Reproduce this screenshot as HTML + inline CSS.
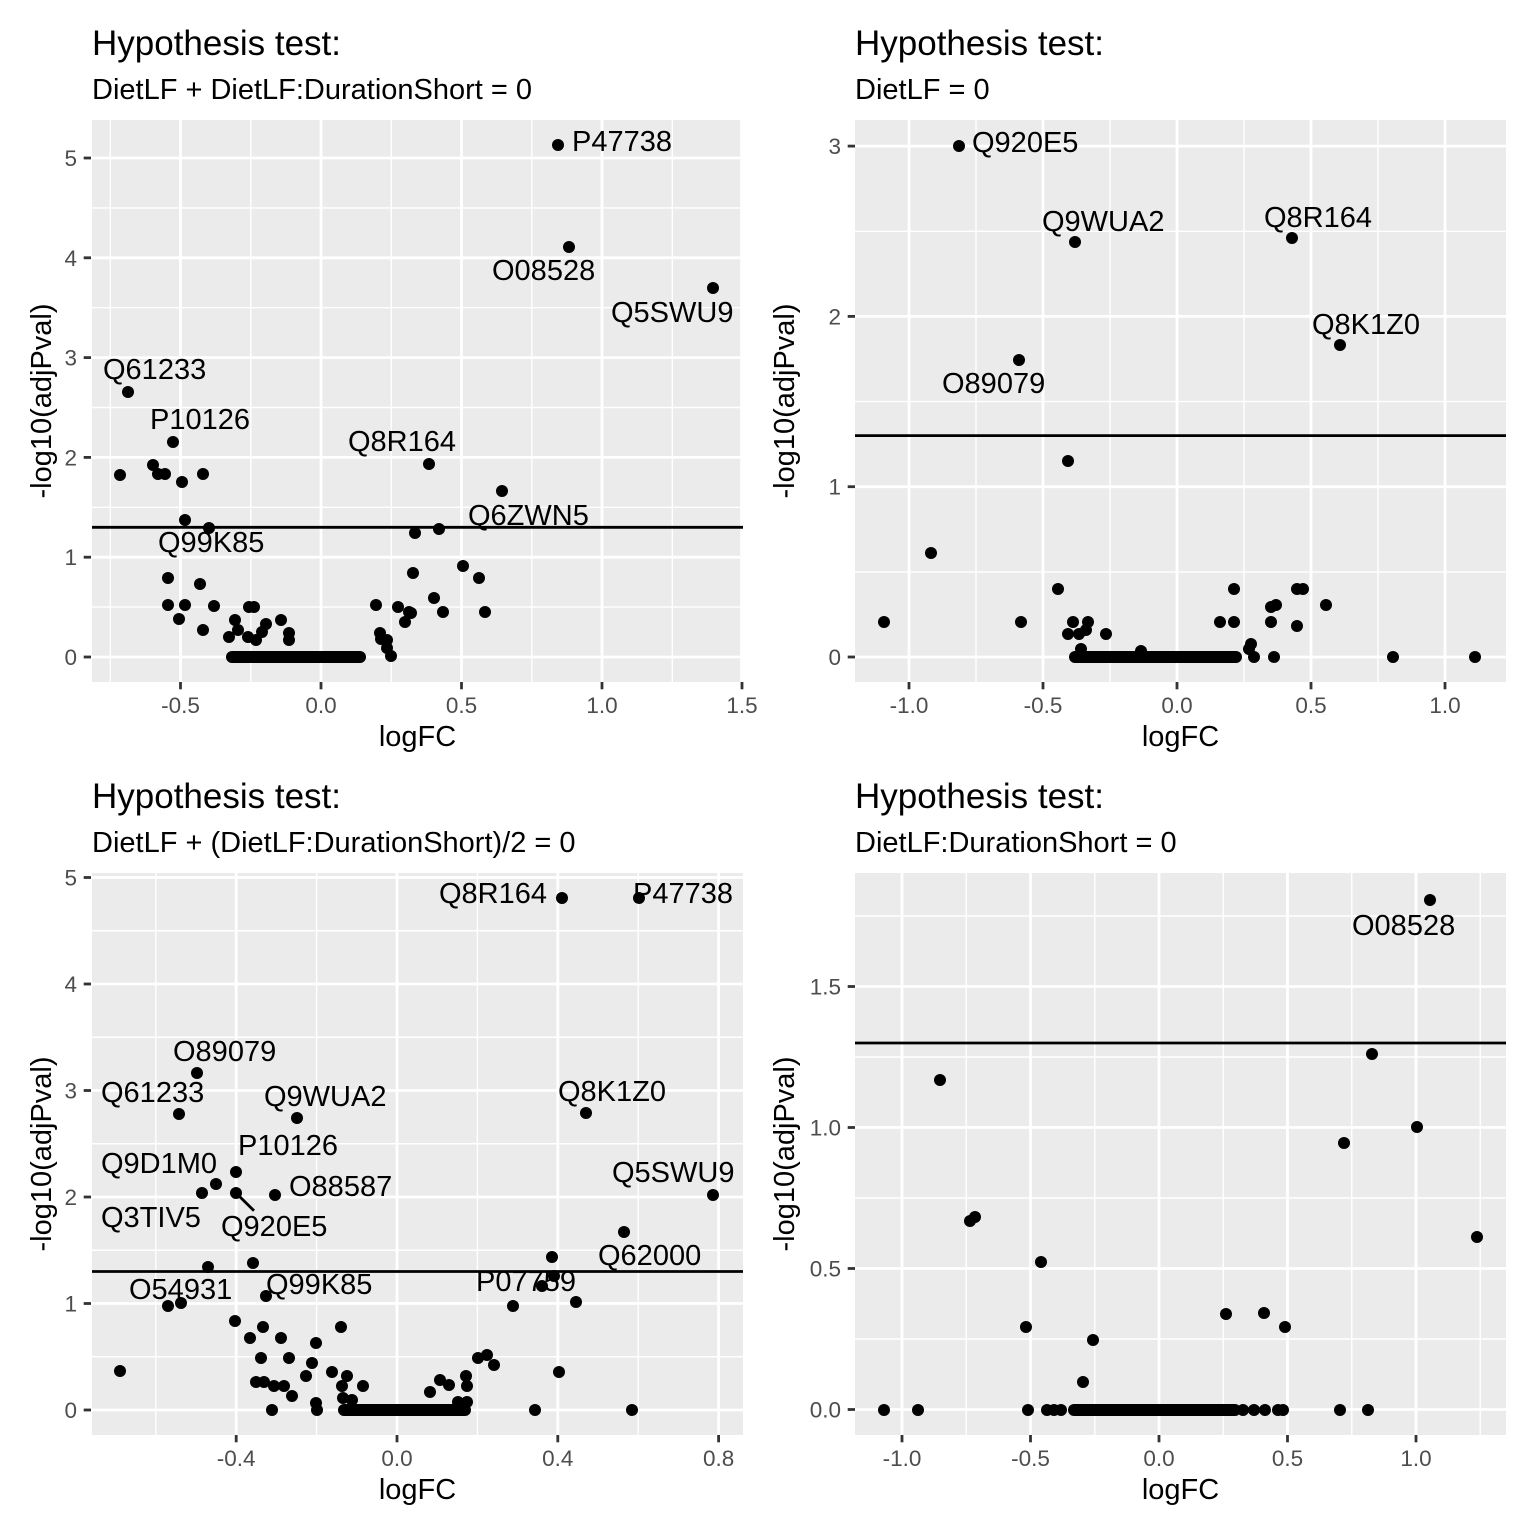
<!DOCTYPE html>
<html><head><meta charset="utf-8"><style>
html,body{margin:0;padding:0;background:#fff;}
svg{display:block;}
text{font-family:"Liberation Sans",Arial,sans-serif;}
.t{font-size:35px;fill:#000;}
.st{font-size:29px;fill:#000;}
.ax{font-size:29px;fill:#000;}
.tk{font-size:22.5px;fill:#4D4D4D;}
.lb{font-size:29px;fill:#000;}
.bg{fill:#EBEBEB;}
.gM{stroke:#fff;stroke-width:2.8;}
.gm{stroke:#fff;stroke-width:1.4;}
.tm{stroke:#333;stroke-width:2.8;}
.hl{stroke:#000;stroke-width:2.8;}
.zr{stroke:#000;stroke-width:12;stroke-linecap:round;}
</style></head><body>
<svg width="1536" height="1536" viewBox="0 0 1536 1536" xmlns="http://www.w3.org/2000/svg">
<rect width="1536" height="1536" fill="#fff"/>

<!-- ================= PANEL 1 ================= -->
<text class="t" x="92" y="55">Hypothesis test:</text>
<text class="st" x="92" y="99">DietLF + DietLF:DurationShort = 0</text>
<rect class="bg" x="92" y="120" width="651" height="562"/>
<g>
<line class="gm" x1="92" x2="743" y1="607.1" y2="607.1"/>
<line class="gm" x1="92" x2="743" y1="507.3" y2="507.3"/>
<line class="gm" x1="92" x2="743" y1="407.5" y2="407.5"/>
<line class="gm" x1="92" x2="743" y1="307.7" y2="307.7"/>
<line class="gm" x1="92" x2="743" y1="207.9" y2="207.9"/>
<line class="gm" y1="120" y2="682" x1="110.3" x2="110.3"/>
<line class="gm" y1="120" y2="682" x1="250.8" x2="250.8"/>
<line class="gm" y1="120" y2="682" x1="391.3" x2="391.3"/>
<line class="gm" y1="120" y2="682" x1="531.8" x2="531.8"/>
<line class="gm" y1="120" y2="682" x1="672.3" x2="672.3"/>
<line class="gM" x1="92" x2="743" y1="657" y2="657"/>
<line class="gM" x1="92" x2="743" y1="557.2" y2="557.2"/>
<line class="gM" x1="92" x2="743" y1="457.4" y2="457.4"/>
<line class="gM" x1="92" x2="743" y1="357.6" y2="357.6"/>
<line class="gM" x1="92" x2="743" y1="257.8" y2="257.8"/>
<line class="gM" x1="92" x2="743" y1="158" y2="158"/>
<line class="gM" y1="120" y2="682" x1="180.5" x2="180.5"/>
<line class="gM" y1="120" y2="682" x1="321" x2="321"/>
<line class="gM" y1="120" y2="682" x1="461.5" x2="461.5"/>
<line class="gM" y1="120" y2="682" x1="602" x2="602"/>
<line class="gM" y1="120" y2="682" x1="741.6" x2="741.6"/>
</g>
<line class="hl" x1="92" x2="743" y1="527.3" y2="527.3"/>
<g class="lb">
<text class="lb" x="572" y="151">P47738</text>
<text class="lb" x="492" y="280">O08528</text>
<text class="lb" x="611" y="322">Q5SWU9</text>
<text class="lb" x="103" y="379">Q61233</text>
<text class="lb" x="150" y="429">P10126</text>
<text class="lb" x="348" y="451">Q8R164</text>
<text class="lb" x="468" y="525">Q6ZWN5</text>
<text class="lb" x="158" y="552">Q99K85</text>
</g>
<g fill="#000">
<circle cx="558" cy="145" r="6"/><circle cx="569" cy="247" r="6"/><circle cx="713" cy="288" r="6"/>
<circle cx="128" cy="392" r="6"/><circle cx="173" cy="442" r="6"/><circle cx="120" cy="475" r="6"/>
<circle cx="153" cy="465" r="6"/><circle cx="158" cy="474" r="6"/><circle cx="165" cy="474" r="6"/>
<circle cx="182" cy="482" r="6"/><circle cx="203" cy="474" r="6"/><circle cx="185" cy="520" r="6"/>
<circle cx="209" cy="528" r="6"/><circle cx="429" cy="464" r="6"/><circle cx="502" cy="491" r="6"/>
<circle cx="415" cy="533" r="6"/><circle cx="439" cy="529" r="6"/>
<circle cx="168" cy="578" r="6"/><circle cx="200" cy="584" r="6"/><circle cx="168" cy="605" r="6"/>
<circle cx="185" cy="605" r="6"/><circle cx="214" cy="606" r="6"/><circle cx="179" cy="619" r="6"/>
<circle cx="203" cy="630" r="6"/><circle cx="235" cy="620" r="6"/><circle cx="238" cy="630" r="6"/>
<circle cx="229" cy="637" r="6"/><circle cx="249" cy="607" r="6"/><circle cx="254" cy="607" r="6"/>
<circle cx="248" cy="637" r="6"/><circle cx="256" cy="640" r="6"/><circle cx="262" cy="632" r="6"/>
<circle cx="266" cy="624" r="6"/><circle cx="281" cy="620" r="6"/><circle cx="289" cy="633" r="6"/>
<circle cx="289" cy="640" r="6"/>
<circle cx="376" cy="605" r="6"/><circle cx="380" cy="633" r="6"/><circle cx="381" cy="639" r="6"/>
<circle cx="387" cy="640" r="6"/><circle cx="387" cy="648" r="6"/><circle cx="391" cy="656" r="6"/>
<circle cx="398" cy="607" r="6"/><circle cx="405" cy="622" r="6"/><circle cx="409" cy="612" r="6"/>
<circle cx="411" cy="613" r="6"/><circle cx="413" cy="573" r="6"/><circle cx="434" cy="598" r="6"/>
<circle cx="443" cy="612" r="6"/><circle cx="463" cy="566" r="6"/><circle cx="479" cy="578" r="6"/>
<circle cx="485" cy="612" r="6"/>
</g>
<line class="zr" x1="232" x2="360" y1="657" y2="657"/>
<!-- axes -->
<g>
<line class="tm" x1="83.7" x2="91" y1="657" y2="657"/><line class="tm" x1="83.7" x2="91" y1="557.2" y2="557.2"/>
<line class="tm" x1="83.7" x2="91" y1="457.4" y2="457.4"/><line class="tm" x1="83.7" x2="91" y1="357.6" y2="357.6"/>
<line class="tm" x1="83.7" x2="91" y1="257.8" y2="257.8"/><line class="tm" x1="83.7" x2="91" y1="158" y2="158"/>
<line class="tm" y1="682" y2="689.3" x1="180.5" x2="180.5"/><line class="tm" y1="682" y2="689.3" x1="321" x2="321"/>
<line class="tm" y1="682" y2="689.3" x1="461.5" x2="461.5"/><line class="tm" y1="682" y2="689.3" x1="602" x2="602"/>
<line class="tm" y1="682" y2="689.3" x1="742" x2="742"/>
</g>
<g class="tk" text-anchor="end">
<text class="tk" x="77" y="665">0</text><text class="tk" x="77" y="565.2">1</text><text class="tk" x="77" y="465.4">2</text>
<text class="tk" x="77" y="365.6">3</text><text class="tk" x="77" y="265.8">4</text><text class="tk" x="77" y="166">5</text>
</g>
<g text-anchor="middle">
<text class="tk" x="180.5" y="713">-0.5</text><text class="tk" x="321" y="713">0.0</text><text class="tk" x="461.5" y="713">0.5</text>
<text class="tk" x="602" y="713">1.0</text><text class="tk" x="742" y="713">1.5</text>
<text class="ax" x="417.5" y="746">logFC</text>
<text class="ax" transform="translate(51,401) rotate(-90)">-log10(adjPval)</text>
</g>

<!-- ================= PANEL 2 ================= -->
<text class="t" x="855" y="55">Hypothesis test:</text>
<text class="st" x="855" y="99">DietLF = 0</text>
<rect class="bg" x="855" y="120" width="651" height="562"/>
<g>
<line class="gm" x1="855" x2="1506" y1="571.9" y2="571.9"/>
<line class="gm" x1="855" x2="1506" y1="401.6" y2="401.6"/>
<line class="gm" x1="855" x2="1506" y1="231.3" y2="231.3"/>
<line class="gm" y1="120" y2="682" x1="976" x2="976"/>
<line class="gm" y1="120" y2="682" x1="1110" x2="1110"/>
<line class="gm" y1="120" y2="682" x1="1244" x2="1244"/>
<line class="gm" y1="120" y2="682" x1="1378" x2="1378"/>
<line class="gM" x1="855" x2="1506" y1="657" y2="657"/>
<line class="gM" x1="855" x2="1506" y1="486.7" y2="486.7"/>
<line class="gM" x1="855" x2="1506" y1="316.4" y2="316.4"/>
<line class="gM" x1="855" x2="1506" y1="146.1" y2="146.1"/>
<line class="gM" y1="120" y2="682" x1="909" x2="909"/>
<line class="gM" y1="120" y2="682" x1="1043" x2="1043"/>
<line class="gM" y1="120" y2="682" x1="1177" x2="1177"/>
<line class="gM" y1="120" y2="682" x1="1311" x2="1311"/>
<line class="gM" y1="120" y2="682" x1="1445" x2="1445"/>
</g>
<line class="hl" x1="855" x2="1506" y1="435.6" y2="435.6"/>
<g>
<text class="lb" x="972" y="152">Q920E5</text>
<text class="lb" x="1042" y="231">Q9WUA2</text>
<text class="lb" x="1264" y="227">Q8R164</text>
<text class="lb" x="1312" y="334">Q8K1Z0</text>
<text class="lb" x="942" y="393">O89079</text>
</g>
<g fill="#000">
<circle cx="959" cy="146" r="6"/><circle cx="1075" cy="242" r="6"/><circle cx="1292" cy="238" r="6"/>
<circle cx="1340" cy="345" r="6"/><circle cx="1019" cy="360" r="6"/><circle cx="1068" cy="461" r="6"/>
<circle cx="931" cy="553" r="6"/><circle cx="884" cy="622" r="6"/><circle cx="1021" cy="622" r="6"/>
<circle cx="1058" cy="589" r="6"/><circle cx="1073" cy="622" r="6"/><circle cx="1088" cy="622" r="6"/>
<circle cx="1068" cy="634" r="6"/><circle cx="1079" cy="634" r="6"/><circle cx="1086" cy="630" r="6"/>
<circle cx="1106" cy="634" r="6"/><circle cx="1081" cy="649" r="6"/><circle cx="1141" cy="651" r="6"/>
<circle cx="1220" cy="622" r="6"/><circle cx="1234" cy="622" r="6"/><circle cx="1234" cy="589" r="6"/>
<circle cx="1271" cy="622" r="6"/><circle cx="1271" cy="607" r="6"/><circle cx="1276" cy="605" r="6"/>
<circle cx="1297" cy="589" r="6"/><circle cx="1303" cy="589" r="6"/><circle cx="1297" cy="626" r="6"/>
<circle cx="1326" cy="605" r="6"/><circle cx="1251" cy="644" r="6"/><circle cx="1249" cy="649" r="6"/>
<circle cx="1254" cy="657" r="6"/><circle cx="1274" cy="657" r="6"/><circle cx="1393" cy="657" r="6"/>
<circle cx="1475" cy="657" r="6"/>
</g>
<line class="zr" x1="1075" x2="1236" y1="657" y2="657"/>
<g>
<line class="tm" x1="847.7" x2="855" y1="657" y2="657"/><line class="tm" x1="847.7" x2="855" y1="486.7" y2="486.7"/>
<line class="tm" x1="847.7" x2="855" y1="316.4" y2="316.4"/><line class="tm" x1="847.7" x2="855" y1="146.1" y2="146.1"/>
<line class="tm" y1="682" y2="689.3" x1="909" x2="909"/><line class="tm" y1="682" y2="689.3" x1="1043" x2="1043"/>
<line class="tm" y1="682" y2="689.3" x1="1177" x2="1177"/><line class="tm" y1="682" y2="689.3" x1="1311" x2="1311"/>
<line class="tm" y1="682" y2="689.3" x1="1445" x2="1445"/>
</g>
<g text-anchor="end">
<text class="tk" x="841" y="665">0</text><text class="tk" x="841" y="494.7">1</text>
<text class="tk" x="841" y="324.4">2</text><text class="tk" x="841" y="154.1">3</text>
</g>
<g text-anchor="middle">
<text class="tk" x="909" y="713">-1.0</text><text class="tk" x="1043" y="713">-0.5</text><text class="tk" x="1177" y="713">0.0</text>
<text class="tk" x="1311" y="713">0.5</text><text class="tk" x="1445" y="713">1.0</text>
<text class="ax" x="1180.5" y="746">logFC</text>
<text class="ax" transform="translate(794,401) rotate(-90)">-log10(adjPval)</text>
</g>

<!-- ================= PANEL 3 ================= -->
<text class="t" x="92" y="808">Hypothesis test:</text>
<text class="st" x="92" y="852">DietLF + (DietLF:DurationShort)/2 = 0</text>
<rect class="bg" x="92" y="873" width="651" height="562"/>
<g>
<line class="gm" x1="92" x2="743" y1="1356.75" y2="1356.75"/>
<line class="gm" x1="92" x2="743" y1="1250.25" y2="1250.25"/>
<line class="gm" x1="92" x2="743" y1="1143.75" y2="1143.75"/>
<line class="gm" x1="92" x2="743" y1="1037.25" y2="1037.25"/>
<line class="gm" x1="92" x2="743" y1="930.75" y2="930.75"/>
<line class="gm" y1="873" y2="1435" x1="155.8" x2="155.8"/>
<line class="gm" y1="873" y2="1435" x1="316.6" x2="316.6"/>
<line class="gm" y1="873" y2="1435" x1="477.4" x2="477.4"/>
<line class="gm" y1="873" y2="1435" x1="638.2" x2="638.2"/>
<line class="gM" x1="92" x2="743" y1="1410" y2="1410"/>
<line class="gM" x1="92" x2="743" y1="1303.5" y2="1303.5"/>
<line class="gM" x1="92" x2="743" y1="1197" y2="1197"/>
<line class="gM" x1="92" x2="743" y1="1090.5" y2="1090.5"/>
<line class="gM" x1="92" x2="743" y1="984" y2="984"/>
<line class="gM" x1="92" x2="743" y1="877.5" y2="877.5"/>
<line class="gM" y1="873" y2="1435" x1="236.2" x2="236.2"/>
<line class="gM" y1="873" y2="1435" x1="397" x2="397"/>
<line class="gM" y1="873" y2="1435" x1="557.8" x2="557.8"/>
<line class="gM" y1="873" y2="1435" x1="718.6" x2="718.6"/>
</g>
<line class="hl" x1="92" x2="743" y1="1271.5" y2="1271.5"/>
<line x1="236" y1="1193" x2="254" y2="1210.7" stroke="#000" stroke-width="2.8"/>
<g>
<text class="lb" x="173" y="1061">O89079</text>
<text class="lb" x="101" y="1102">Q61233</text>
<text class="lb" x="264" y="1106">Q9WUA2</text>
<text class="lb" x="238" y="1155">P10126</text>
<text class="lb" x="101" y="1173">Q9D1M0</text>
<text class="lb" x="289" y="1196">O88587</text>
<text class="lb" x="101" y="1227">Q3TIV5</text>
<text class="lb" x="221" y="1236">Q920E5</text>
<text class="lb" x="129" y="1299">O54931</text>
<text class="lb" x="266" y="1294">Q99K85</text>
<text class="lb" x="439" y="903">Q8R164</text>
<text class="lb" x="633" y="903">P47738</text>
<text class="lb" x="558" y="1101">Q8K1Z0</text>
<text class="lb" x="612" y="1182">Q5SWU9</text>
<text class="lb" x="598" y="1265">Q62000</text>
<text class="lb" x="476" y="1291">P07759</text>
</g>
<g fill="#000">
<circle cx="197" cy="1073" r="6"/><circle cx="179" cy="1114" r="6"/><circle cx="297" cy="1118" r="6"/>
<circle cx="236" cy="1172" r="6"/><circle cx="216" cy="1184" r="6"/><circle cx="202" cy="1193" r="6"/>
<circle cx="236" cy="1193" r="6"/><circle cx="275" cy="1195" r="6"/><circle cx="208" cy="1267" r="6"/>
<circle cx="253" cy="1263" r="6"/><circle cx="266" cy="1296" r="6"/><circle cx="168" cy="1306" r="6"/>
<circle cx="181" cy="1303" r="6"/><circle cx="120" cy="1371" r="6"/><circle cx="235" cy="1321" r="6"/>
<circle cx="263" cy="1327" r="6"/><circle cx="341" cy="1327" r="6"/><circle cx="250" cy="1338" r="6"/>
<circle cx="281" cy="1338" r="6"/><circle cx="316" cy="1343" r="6"/><circle cx="261" cy="1358" r="6"/>
<circle cx="289" cy="1358" r="6"/><circle cx="312" cy="1363" r="6"/><circle cx="332" cy="1372" r="6"/>
<circle cx="306" cy="1376" r="6"/><circle cx="347" cy="1376" r="6"/><circle cx="256" cy="1382" r="6"/>
<circle cx="264" cy="1382" r="6"/><circle cx="274" cy="1386" r="6"/><circle cx="284" cy="1386" r="6"/>
<circle cx="292" cy="1396" r="6"/><circle cx="342" cy="1386" r="6"/><circle cx="363" cy="1386" r="6"/>
<circle cx="343" cy="1398" r="6"/><circle cx="352" cy="1400" r="6"/><circle cx="316" cy="1403" r="6"/>
<circle cx="317" cy="1410" r="6"/><circle cx="272" cy="1410" r="6"/>
<circle cx="430" cy="1392" r="6"/><circle cx="440" cy="1380" r="6"/><circle cx="449" cy="1385" r="6"/>
<circle cx="466" cy="1376" r="6"/><circle cx="467" cy="1386" r="6"/><circle cx="458" cy="1402" r="6"/>
<circle cx="467" cy="1402" r="6"/>
<circle cx="562" cy="898" r="6"/><circle cx="639" cy="898" r="6"/><circle cx="586" cy="1113" r="6"/>
<circle cx="713" cy="1195" r="6"/><circle cx="624" cy="1232" r="6"/><circle cx="552" cy="1257" r="6"/>
<circle cx="554" cy="1276" r="6"/><circle cx="542" cy="1286" r="6"/><circle cx="576" cy="1302" r="6"/>
<circle cx="513" cy="1306" r="6"/><circle cx="478" cy="1358" r="6"/><circle cx="487" cy="1355" r="6"/>
<circle cx="494" cy="1365" r="6"/><circle cx="559" cy="1372" r="6"/><circle cx="535" cy="1410" r="6"/>
<circle cx="632" cy="1410" r="6"/>
</g>
<line class="zr" x1="344" x2="465" y1="1410" y2="1410"/>
<g>
<line class="tm" x1="83.7" x2="91" y1="1410" y2="1410"/><line class="tm" x1="83.7" x2="91" y1="1303.5" y2="1303.5"/>
<line class="tm" x1="83.7" x2="91" y1="1197" y2="1197"/><line class="tm" x1="83.7" x2="91" y1="1090.5" y2="1090.5"/>
<line class="tm" x1="83.7" x2="91" y1="984" y2="984"/><line class="tm" x1="83.7" x2="91" y1="877.5" y2="877.5"/>
<line class="tm" y1="1435" y2="1442.3" x1="236.2" x2="236.2"/><line class="tm" y1="1435" y2="1442.3" x1="397" x2="397"/>
<line class="tm" y1="1435" y2="1442.3" x1="557.8" x2="557.8"/><line class="tm" y1="1435" y2="1442.3" x1="718.6" x2="718.6"/>
</g>
<g text-anchor="end">
<text class="tk" x="77" y="1418">0</text><text class="tk" x="77" y="1311.5">1</text><text class="tk" x="77" y="1205">2</text>
<text class="tk" x="77" y="1098.5">3</text><text class="tk" x="77" y="992">4</text><text class="tk" x="77" y="885.5">5</text>
</g>
<g text-anchor="middle">
<text class="tk" x="236.2" y="1466">-0.4</text><text class="tk" x="397" y="1466">0.0</text>
<text class="tk" x="557.8" y="1466">0.4</text><text class="tk" x="718.6" y="1466">0.8</text>
<text class="ax" x="417.5" y="1499">logFC</text>
<text class="ax" transform="translate(51,1154) rotate(-90)">-log10(adjPval)</text>
</g>

<!-- ================= PANEL 4 ================= -->
<text class="t" x="855" y="808">Hypothesis test:</text>
<text class="st" x="855" y="852">DietLF:DurationShort = 0</text>
<rect class="bg" x="855" y="873" width="651" height="562"/>
<g>
<line class="gm" x1="855" x2="1506" y1="1339" y2="1339"/>
<line class="gm" x1="855" x2="1506" y1="1198" y2="1198"/>
<line class="gm" x1="855" x2="1506" y1="1057" y2="1057"/>
<line class="gm" x1="855" x2="1506" y1="916" y2="916"/>
<line class="gm" y1="873" y2="1435" x1="966.25" x2="966.25"/>
<line class="gm" y1="873" y2="1435" x1="1094.75" x2="1094.75"/>
<line class="gm" y1="873" y2="1435" x1="1223.25" x2="1223.25"/>
<line class="gm" y1="873" y2="1435" x1="1351.75" x2="1351.75"/>
<line class="gm" y1="873" y2="1435" x1="1480.25" x2="1480.25"/>
<line class="gM" x1="855" x2="1506" y1="1409.5" y2="1409.5"/>
<line class="gM" x1="855" x2="1506" y1="1268.5" y2="1268.5"/>
<line class="gM" x1="855" x2="1506" y1="1127.5" y2="1127.5"/>
<line class="gM" x1="855" x2="1506" y1="986.5" y2="986.5"/>
<line class="gM" y1="873" y2="1435" x1="902" x2="902"/>
<line class="gM" y1="873" y2="1435" x1="1030.5" x2="1030.5"/>
<line class="gM" y1="873" y2="1435" x1="1159" x2="1159"/>
<line class="gM" y1="873" y2="1435" x1="1287.5" x2="1287.5"/>
<line class="gM" y1="873" y2="1435" x1="1416" x2="1416"/>
</g>
<line class="hl" x1="855" x2="1506" y1="1043" y2="1043"/>
<text class="lb" x="1352" y="935">O08528</text>
<g fill="#000">
<circle cx="1430" cy="900" r="6"/><circle cx="1372" cy="1054" r="6"/><circle cx="940" cy="1080" r="6"/>
<circle cx="1417" cy="1127" r="6"/><circle cx="1344" cy="1143" r="6"/><circle cx="1477" cy="1237" r="6"/>
<circle cx="970" cy="1221" r="6"/><circle cx="975" cy="1217" r="6"/><circle cx="1041" cy="1262" r="6"/>
<circle cx="1226" cy="1314" r="6"/><circle cx="1264" cy="1313" r="6"/><circle cx="1285" cy="1327" r="6"/>
<circle cx="1026" cy="1327" r="6"/><circle cx="1093" cy="1340" r="6"/><circle cx="1083" cy="1382" r="6"/>
<circle cx="884" cy="1410" r="6"/><circle cx="918" cy="1410" r="6"/><circle cx="1028" cy="1410" r="6"/>
<circle cx="1047" cy="1410" r="6"/><circle cx="1054" cy="1410" r="6"/><circle cx="1061" cy="1410" r="6"/>
<circle cx="1243" cy="1410" r="6"/><circle cx="1254" cy="1410" r="6"/><circle cx="1265" cy="1410" r="6"/>
<circle cx="1278" cy="1410" r="6"/><circle cx="1283" cy="1410" r="6"/><circle cx="1340" cy="1410" r="6"/>
<circle cx="1368" cy="1410" r="6"/>
</g>
<line class="zr" x1="1074" x2="1235" y1="1410" y2="1410"/>
<g>
<line class="tm" x1="847.7" x2="855" y1="1409.5" y2="1409.5"/><line class="tm" x1="847.7" x2="855" y1="1268.5" y2="1268.5"/>
<line class="tm" x1="847.7" x2="855" y1="1127.5" y2="1127.5"/><line class="tm" x1="847.7" x2="855" y1="986.5" y2="986.5"/>
<line class="tm" y1="1435" y2="1442.3" x1="902" x2="902"/><line class="tm" y1="1435" y2="1442.3" x1="1030.5" x2="1030.5"/>
<line class="tm" y1="1435" y2="1442.3" x1="1159" x2="1159"/><line class="tm" y1="1435" y2="1442.3" x1="1287.5" x2="1287.5"/>
<line class="tm" y1="1435" y2="1442.3" x1="1416" x2="1416"/>
</g>
<g text-anchor="end">
<text class="tk" x="841" y="1417.5">0.0</text><text class="tk" x="841" y="1276.5">0.5</text>
<text class="tk" x="841" y="1135.5">1.0</text><text class="tk" x="841" y="994.5">1.5</text>
</g>
<g text-anchor="middle">
<text class="tk" x="902" y="1466">-1.0</text><text class="tk" x="1030.5" y="1466">-0.5</text><text class="tk" x="1159" y="1466">0.0</text>
<text class="tk" x="1287.5" y="1466">0.5</text><text class="tk" x="1416" y="1466">1.0</text>
<text class="ax" x="1180.5" y="1499">logFC</text>
<text class="ax" transform="translate(794,1154) rotate(-90)">-log10(adjPval)</text>
</g>
</svg>
</body></html>
